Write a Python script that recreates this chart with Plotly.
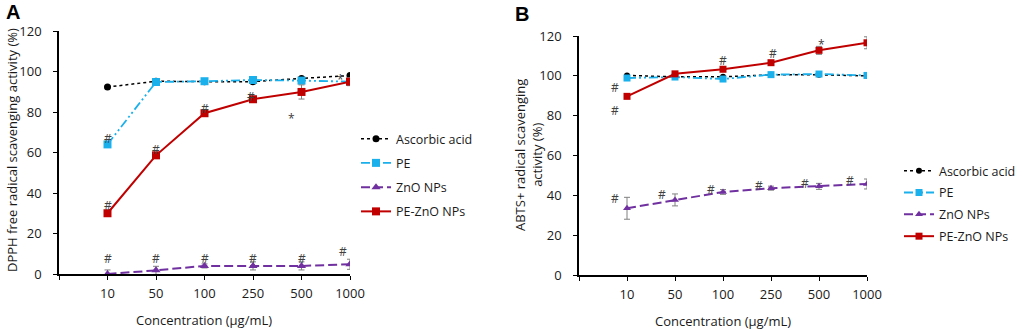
import plotly.graph_objects as go

# ---------------- data ----------------
conc_labels = ["10", "50", "100", "250", "500", "1000"]
x_idx = [0, 1, 2, 3, 4, 5]

# Panel A: DPPH
dpph_ascorbic = [92.3, 95.2, 95.0, 95.0, 96.6, 98.0]
dpph_ascorbic_err = [0.5, 0.5, 0.5, 0.5, 0.6, 0.5]
dpph_pe = [64.0, 94.8, 95.2, 95.8, 95.5, 95.0]
dpph_pe_err = [1.2, 0.8, 0.8, 0.8, 1.0, 1.0]
dpph_zno = [0.0, 1.8, 4.0, 4.0, 4.0, 4.8]
dpph_zno_err = [2.0, 2.0, 1.0, 2.0, 2.0, 2.5]
dpph_pezno = [30.0, 58.6, 79.4, 86.3, 89.9, 95.0]
dpph_pezno_err = [1.0, 1.0, 1.5, 1.0, 3.5, 2.0]

# Panel B: ABTS+
abts_ascorbic = [100.2, 99.5, 99.5, 100.5, 100.5, 100.0]
abts_ascorbic_err = [0.5, 0.5, 0.5, 0.5, 0.5, 0.5]
abts_pe = [98.9, 99.4, 98.4, 100.6, 100.9, 100.2]
abts_pe_err = [0.8, 0.6, 0.8, 0.6, 0.8, 0.6]
abts_zno = [33.5, 37.7, 41.7, 43.6, 44.5, 45.7]
abts_zno_err = [5.5, 3.0, 1.2, 1.0, 1.5, 2.5]
abts_pezno = [89.7, 101.0, 103.3, 106.6, 112.8, 116.6]
abts_pezno_err = [0.8, 0.8, 1.0, 1.0, 2.0, 3.0]

# significance marks: (x position, y value, symbol)
marks_a = [(0, 67, "#"), (0, 34, "#"), (1, 61.5, "#"), (2, 81.5, "#"), (2.95, 87.5, "#"),
           (0, 7.5, "#"), (1, 7.5, "#"), (2, 7.5, "#"), (3, 7.5, "#"), (4, 7.5, "#"),
           (4.85, 11, "#"), (3.8, 77, "*"), (4.8, 96, "*")]
marks_b = [(-0.25, 94, "#"), (-0.25, 82.5, "#"), (2, 107.5, "#"), (3.05, 111, "#"),
           (4.05, 115.5, "*"), (5, 121, "*"),
           (-0.25, 38.5, "#"), (0.72, 40.5, "#"), (1.75, 43, "#"), (2.75, 45, "#"),
           (3.7, 46, "#"), (4.65, 47.3, "#")]

series_names = ["Ascorbic acid", "PE", "ZnO NPs", "PE-ZnO NPs"]
colors = ["#000000", "#1AB0EC", "#7030A0", "#C00000"]
symbols = ["circle", "square", "triangle-up", "square"]
dashes = ["dot", "9px,3px,2px,3px,2px,3px", "9px,4px", "solid"]
widths = [1.5, 1.8, 2, 2]

FONT = "Open Sans"
W, H = 1022, 330

fig = go.Figure()

data_a = [(dpph_ascorbic, dpph_ascorbic_err), (dpph_pe, dpph_pe_err),
          (dpph_zno, dpph_zno_err), (dpph_pezno, dpph_pezno_err)]
data_b = [(abts_ascorbic, abts_ascorbic_err), (abts_pe, abts_pe_err),
          (abts_zno, abts_zno_err), (abts_pezno, abts_pezno_err)]

for i, (vals, err) in enumerate(data_a):
    fig.add_trace(go.Scatter(
        x=x_idx, y=vals, name=series_names[i], mode="lines+markers",
        xaxis="x", yaxis="y", legend="legend", legendgroup="a%d" % i,
        line=dict(color=colors[i], dash=dashes[i], width=widths[i]),
        marker=dict(symbol=symbols[i], size=8 if i != 0 else 7, color=colors[i]),
        error_y=dict(type="data", array=err, color="#808080", thickness=1, width=3),
    ))
for i, (vals, err) in enumerate(data_b):
    fig.add_trace(go.Scatter(
        x=x_idx, y=vals, name=series_names[i], mode="lines+markers",
        xaxis="x2", yaxis="y2", legend="legend2", legendgroup="b%d" % i,
        line=dict(color=colors[i], dash=dashes[i], width=widths[i]),
        marker=dict(symbol=symbols[i], size=7 if i != 0 else 6, color=colors[i]),
        error_y=dict(type="data", array=err, color="#808080", thickness=1, width=3),
    ))

axis_common = dict(showgrid=False, zeroline=False, showline=True, linecolor="#000000",
                   linewidth=1.5, ticks="outside", ticklen=4, tickwidth=1.3,
                   tickcolor="#000000", tickfont=dict(family=FONT, size=13, color="#1a1a1a"),
                   automargin=False)

xa = dict(axis_common, range=[-1, 5], tickmode="array", tickvals=[-1] + x_idx,
          ticktext=[""] + conc_labels, ticklabelstandoff=3)
ya = dict(axis_common, range=[0, 120], tickmode="array", tickvals=[0, 20, 40, 60, 80, 100, 120],
          ticklabelstandoff=9)

fig.update_layout(
    width=W, height=H, margin=dict(l=0, r=0, t=0, b=0, pad=0, autoexpand=False),
    paper_bgcolor="white", plot_bgcolor="white",
    xaxis=dict(xa, domain=[59 / W, 350 / W], anchor="y"),
    yaxis=dict(ya, domain=[(H - 274) / H, (H - 31) / H], anchor="x"),
    xaxis2=dict(xa, domain=[579 / W, 867 / W], anchor="y2"),
    yaxis2=dict(ya, domain=[(H - 275) / H, (H - 36) / H], anchor="x2"),
    legend=dict(x=356 / W, y=1 - 124 / H, xanchor="left", yanchor="top",
                font=dict(family=FONT, size=12.5, color="#1a1a1a"),
                tracegroupgap=5, bgcolor="rgba(0,0,0,0)"),
    legend2=dict(x=899 / W, y=1 - 156 / H, xanchor="left", yanchor="top",
                 font=dict(family=FONT, size=12.5, color="#1a1a1a"),
                 tracegroupgap=2.6, bgcolor="rgba(0,0,0,0)"),
    showlegend=True,
)

ann = []
for (xv, yv, s) in marks_a:
    ann.append(dict(x=xv, y=yv, xref="x", yref="y", text=s, showarrow=False,
                    font=dict(family=FONT, size=12, color="#404040")))
for (xv, yv, s) in marks_b:
    ann.append(dict(x=xv, y=yv, xref="x2", yref="y2", text=s, showarrow=False,
                    font=dict(family=FONT, size=12, color="#404040")))

def paper_text(x, y, text, size=13, angle=0, family=FONT, color="#1a1a1a"):
    return dict(x=x / W, y=1 - y / H, xref="paper", yref="paper", text=text,
                xanchor="center", yanchor="middle", textangle=angle, showarrow=False,
                font=dict(family=family, size=size, color=color))

# titles and panel labels
ann += [
    paper_text(12, 150, "DPPH free radical scavenging activity (%)", angle=-90),
    paper_text(204, 320, "Concentration (μg/mL)"),
    paper_text(528, 155, "ABTS+ radical scavenging<br>activity (%)", angle=-90),
    paper_text(723, 321, "Concentration (μg/mL)"),
    paper_text(13, 12, "<b>A</b>", size=20, family="Liberation Sans", color="#000000"),
    paper_text(522, 14, "<b>B</b>", size=20, family="Liberation Sans", color="#000000"),
]
fig.update_layout(annotations=ann)

fig.write_html("out.html")
